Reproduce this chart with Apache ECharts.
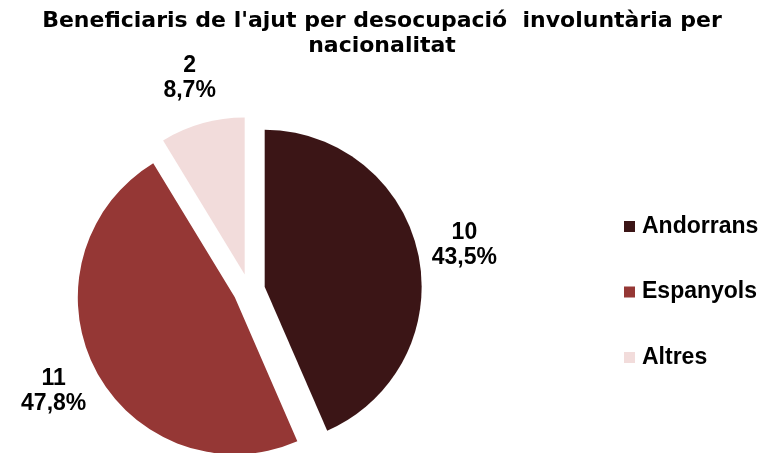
<!DOCTYPE html>
<html>
<head>
<meta charset="utf-8">
<script src="https://cdn.jsdelivr.net/npm/echarts@6/dist/echarts.min.js"></script>
<style>
  html, body { margin: 0; padding: 0; background: #fff; }
  #chart { width: 764px; height: 453px; }
</style>
</head>
<body>
<div id="chart"></div>
<script>
// dades
const categories = ['Andorrans', 'Espanyols', 'Altres'];
const values = [10, 11, 2];
const percents = ['43,5%', '47,8%', '8,7%'];
const colors = ['#3b1516', '#953735', '#f2dcdb'];

const chartTitle = "Beneficiaris de l'ajut per desocupació  involuntària per\nnacionalitat";

const FONT = '"Liberation Sans", Arial, sans-serif';
const pieCenter = [249, 290];
const pieRadius = 157;
const explode = 16;
const labelRadius = 220;

const total = values.reduce((a, b) => a + b, 0);

// angle mig de cada sector (radiants des de dalt, sentit horari)
function midAngle(i) {
    let acc = 0;
    for (let k = 0; k < i; k++) acc += values[k];
    return (acc + values[i] / 2) / total * 2 * Math.PI;
}

const chart = echarts.init(document.getElementById('chart'));

const option = {
    animation: false,
    backgroundColor: '#fff',
    title: {
        text: chartTitle,
        left: 'center',
        top: 4,
        textStyle: {
            fontFamily: '"DejaVu Sans", sans-serif',
            fontSize: 22,
            fontWeight: 'bold',
            color: '#000',
            lineHeight: 25
        }
    },
    legend: {
        orient: 'vertical',
        left: 619,
        top: 210,
        itemWidth: 11,
        itemHeight: 11,
        itemGap: 42.5,
        icon: 'rect',
        data: categories,
        textStyle: {
            fontFamily: FONT,
            fontSize: 23,
            fontWeight: 'bold',
            color: '#000',
            lineHeight: 23,
            padding: [0, 0, 0, 2]
        },
        selectedMode: false
    },
    series: [{
        // sectors separats
        type: 'pie',
        center: pieCenter,
        radius: pieRadius,
        startAngle: 90,
        clockwise: true,
        selectedMode: 'multiple',
        selectedOffset: explode,
        silent: true,
        label: { show: false },
        labelLine: { show: false },
        data: categories.map((c, i) => ({
            name: c,
            value: values[i],
            selected: true,
            itemStyle: { color: colors[i] }
        }))
    }, {
        // etiquetes (sectors transparents)
        type: 'pie',
        center: pieCenter,
        radius: pieRadius,
        startAngle: 90,
        clockwise: true,
        silent: true,
        avoidLabelOverlap: false,
        itemStyle: { color: 'rgba(0,0,0,0)' },
        label: {
            show: true,
            position: 'outside',
            overflow: 'none',
            fontFamily: FONT,
            fontSize: 23,
            fontWeight: 'bold',
            color: '#000',
            lineHeight: 25,
            formatter: p => p.value + '\n' + percents[p.dataIndex]
        },
        labelLine: { show: false },
        labelLayout: function (params) {
            const a = midAngle(params.dataIndex);
            return {
                x: pieCenter[0] + labelRadius * Math.sin(a),
                y: pieCenter[1] - labelRadius * Math.cos(a),
                align: 'center',
                verticalAlign: 'middle'
            };
        },
        data: categories.map((c, i) => ({ name: c, value: values[i] }))
    }]
};

chart.setOption(option);
</script>
</body>
</html>
